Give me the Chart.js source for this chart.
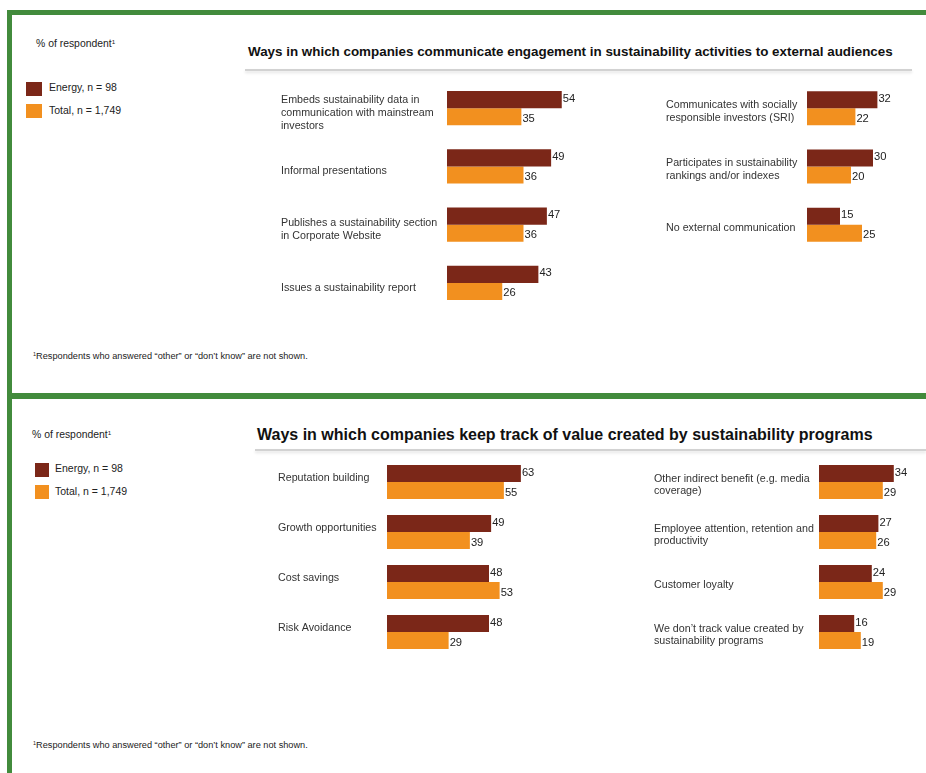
<!DOCTYPE html>
<html>
<head>
<meta charset="utf-8">
<script src="https://cdn.jsdelivr.net/npm/chart.js@4.4.1/dist/chart.umd.min.js"></script>
<style>
  body { margin: 0; background: #fff; font-family: "Liberation Sans", Arial, sans-serif; color: #222; }
  #page { position: relative; width: 926px; height: 773px; overflow: hidden; }
  .abs { position: absolute; white-space: nowrap; }
  .green { position: absolute; background: #428b3c; }
  .rule { position: absolute; height: 2px; background: #d2d2d2; box-shadow: 0 2px 3px rgba(0,0,0,0.12); }
  .sq { position: absolute; }
  .box { position: absolute; }
  sup { font-size: 60%; vertical-align: 0; position: relative; top: -0.5em; }
</style>
</head>
<body>
<div id="page">
  <!-- green frame -->
  <div class="green" style="left:7px; top:10px; width:919px; height:5px;"></div>
  <div class="green" style="left:7px; top:10px; width:5px; height:763px;"></div>
  <div class="green" style="left:7px; top:393px; width:919px; height:6px;"></div>

  <!-- panel 1 -->
  <div class="abs" style="left:36px; top:38px; font-size:10.4px; line-height:12px;">% of respondent<sup>1</sup></div>
  <div class="sq" style="left:26px; top:82px; width:16px; height:14px; background:#7b2718;"></div>
  <div class="sq" style="left:26px; top:104px; width:16px; height:14px; background:#f2901f;"></div>
  <div class="abs" id="leg1a" style="left:49px; top:80px; font-size:10.5px; line-height:14px;"></div>
  <div class="abs" id="leg1b" style="left:49px; top:103px; font-size:10.5px; line-height:14px;"></div>
  <div class="abs" style="left:248px; top:44px; font-size:13.4px; font-weight:bold; line-height:16px; color:#111;">Ways in which companies communicate engagement in sustainability activities to external audiences</div>
  <div class="rule" style="left:245px; top:69px; width:667px;"></div>
  <div class="box" style="left:281px; top:79px; width:356px; height:233px;"><canvas id="c1"></canvas></div>
  <div class="box" style="left:666px; top:79px; width:249px; height:175px;"><canvas id="c2"></canvas></div>
  <div class="abs" style="left:33px; top:351px; font-size:9.2px; line-height:11px;"><sup>1</sup>Respondents who answered “other” or “don’t know” are not shown.</div>

  <!-- panel 2 -->
  <div class="abs" style="left:32px; top:429px; font-size:10.4px; line-height:12px;">% of respondent<sup>1</sup></div>
  <div class="sq" style="left:35px; top:463px; width:14px; height:14px; background:#7b2718;"></div>
  <div class="sq" style="left:35px; top:485px; width:14px; height:14px; background:#f2901f;"></div>
  <div class="abs" id="leg2a" style="left:55px; top:461px; font-size:10.5px; line-height:14px;"></div>
  <div class="abs" id="leg2b" style="left:55px; top:484px; font-size:10.5px; line-height:14px;"></div>
  <div class="abs" style="left:257px; top:426px; font-size:16px; font-weight:bold; line-height:18px; color:#111;">Ways in which companies keep track of value created by sustainability programs</div>
  <div class="rule" style="left:255px; top:449px; width:671px;"></div>
  <div class="box" style="left:278px; top:457px; width:299px; height:200px;"><canvas id="c3"></canvas></div>
  <div class="box" style="left:654px; top:457px; width:273px; height:200px;"><canvas id="c4"></canvas></div>
  <div class="abs" style="left:33px; top:740px; font-size:9.2px; line-height:11px;"><sup>1</sup>Respondents who answered “other” or “don’t know” are not shown.</div>
</div>

<script>
const seriesNames = ["Energy, n = 98", "Total, n = 1,749"];

// communicate engagement
const commLeftLabels = [
  ["Embeds sustainability data in", "communication with mainstream", "investors"],
  "Informal presentations",
  ["Publishes a sustainability section", "in Corporate Website"],
  "Issues a sustainability report"
];
const commLeftEnergy = [54, 49, 47, 43];
const commLeftTotal = [35, 36, 36, 26];

const commRightLabels = [
  ["Communicates with socially", "responsible investors (SRI)"],
  ["Participates in sustainability", "rankings and/or indexes"],
  "No external communication"
];
const commRightEnergy = [32, 30, 15];
const commRightTotal = [22, 20, 25];

// keep track of value
const trackLeftLabels = ["Reputation building", "Growth opportunities", "Cost savings", "Risk Avoidance"];
const trackLeftEnergy = [63, 49, 48, 48];
const trackLeftTotal = [55, 39, 53, 29];

const trackRightLabels = [
  ["Other indirect benefit (e.g. media", "coverage)"],
  ["Employee attention, retention and", "productivity"],
  "Customer loyalty",
  ["We don’t track value created by", "sustainability programs"]
];
const trackRightEnergy = [34, 27, 24, 16];
const trackRightTotal = [29, 26, 29, 19];

const DARK = "#7b2718";
const ORANGE = "#f2901f";
const FONT = '"Liberation Sans", Arial, sans-serif';

document.getElementById("leg1a").innerText = seriesNames[0];
document.getElementById("leg1b").innerText = seriesNames[1];
document.getElementById("leg2a").innerText = seriesNames[0];
document.getElementById("leg2b").innerText = seriesNames[1];

// numbers at the end of each bar
const valueLabels = {
  id: "valueLabels",
  afterDatasetsDraw(chart) {
    const ctx = chart.ctx;
    ctx.save();
    ctx.font = "11.2px " + FONT;
    ctx.fillStyle = "#222";
    ctx.textAlign = "left";
    ctx.textBaseline = "middle";
    chart.data.datasets.forEach((ds, i) => {
      chart.getDatasetMeta(i).data.forEach((bar, j) => {
        ctx.fillText(ds.data[j], bar.x + 1, bar.y + (i === 0 ? -1 : 2));
      });
    });
    ctx.restore();
  }
};

function makeChart(id, labels, energy, total, axisW, xMax, catPct, labelOffset, padRight) {
  return new Chart(document.getElementById(id), {
    type: "bar",
    data: {
      labels: labels,
      datasets: [
        { label: seriesNames[0], data: energy, backgroundColor: DARK },
        { label: seriesNames[1], data: total, backgroundColor: ORANGE }
      ]
    },
    options: {
      indexAxis: "y",
      responsive: true,
      maintainAspectRatio: false,
      animation: false,
      layout: { padding: { left: 0, right: padRight, top: 0, bottom: 0 } },
      datasets: { bar: { categoryPercentage: catPct, barPercentage: 1 } },
      plugins: { legend: { display: false }, tooltip: { enabled: false } },
      scales: {
        x: { display: false, min: 0, max: xMax },
        y: {
          grid: { display: false },
          border: { display: false },
          ticks: {
            crossAlign: "far",
            autoSkip: false,
            padding: 0,
            labelOffset: labelOffset,
            color: "#333",
            font: { family: FONT, size: 10.7, lineHeight: 1.2 }
          },
          afterFit(s) {
            s.width = axisW;
            s.paddingTop = 0;
            s.paddingBottom = 0;
          }
        }
      }
    },
    plugins: [valueLabels]
  });
}

makeChart("c1", commLeftLabels, commLeftEnergy, commLeftTotal, 166, 80, 0.584, 5, 20);
makeChart("c2", commRightLabels, commRightEnergy, commRightTotal, 141, 40, 0.584, 3, 20);
makeChart("c3", trackLeftLabels, trackLeftEnergy, trackLeftTotal, 109, 80, 0.68, -4, 20);
makeChart("c4", trackRightLabels, trackRightEnergy, trackRightTotal, 165, 40, 0.68, 3, 20);
</script>
</body>
</html>
